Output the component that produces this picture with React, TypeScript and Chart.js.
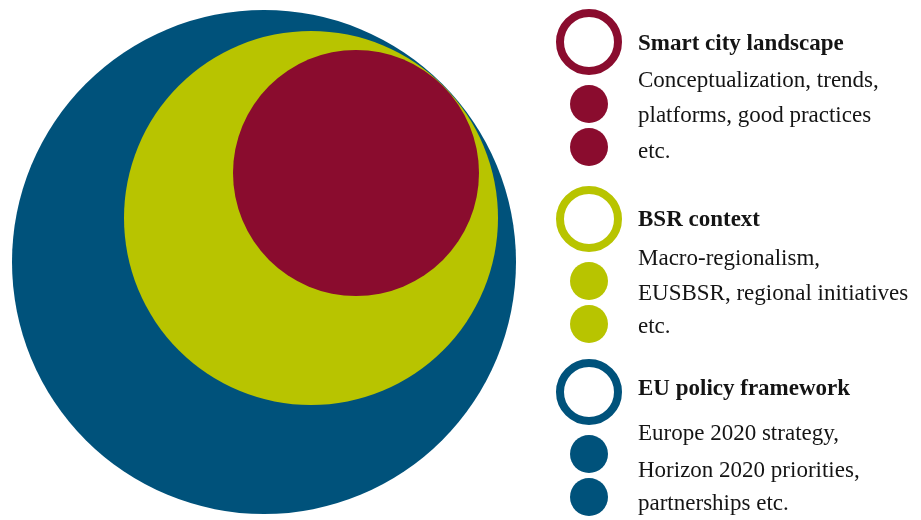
import { useEffect, useRef } from "react";
import { Chart, registerables } from "chart.js";

Chart.register(...registerables);

// ---- data ----
const categories = ["Smart city landscape", "BSR context", "EU policy framework"];
const colors = ["#8A0C2E", "#B8C400", "#00527B"];
const centerX = [356, 311, 264];
const centerY = [173, 218, 262];
const radius = [123, 187, 252];
const descriptions = [
  ["Conceptualization, trends,", "platforms, good practices", "etc."],
  ["Macro-regionalism,", "EUSBSR, regional initiatives", "etc."],
  ["Europe 2020 strategy,", "Horizon 2020 priorities,", "partnerships etc."],
];

// ---- legend layout (positions only) ----
const legendLayout = {
  iconX: 589,
  textX: 638,
  ringCenters: [42, 219, 392],
  ringR: 29,
  ringW: 8,
  dotR: 19,
  dotOffsets: [62, 105],
  titleBaselines: [50, 226, 395],
  lineBaselines: [
    [87, 122, 158],
    [265, 300, 333],
    [440, 477, 510],
  ],
  font: '"Liberation Serif", "Times New Roman", serif',
  size: 23,
};

const legendPlugin = {
  id: "sideLegend",
  afterDraw(chart: any) {
    const ctx = chart.ctx as CanvasRenderingContext2D;
    const L = legendLayout;
    ctx.save();
    categories.forEach((title, i) => {
      const cy = L.ringCenters[i];
      ctx.beginPath();
      ctx.arc(L.iconX, cy, L.ringR, 0, Math.PI * 2);
      ctx.fillStyle = "#ffffff";
      ctx.fill();
      ctx.lineWidth = L.ringW;
      ctx.strokeStyle = colors[i];
      ctx.stroke();
      L.dotOffsets.forEach((off) => {
        ctx.beginPath();
        ctx.arc(L.iconX, cy + off, L.dotR, 0, Math.PI * 2);
        ctx.fillStyle = colors[i];
        ctx.fill();
      });
      ctx.fillStyle = "#141414";
      ctx.textAlign = "left";
      ctx.textBaseline = "alphabetic";
      ctx.font = `bold ${L.size}px ${L.font}`;
      ctx.fillText(title, L.textX, L.titleBaselines[i]);
      ctx.font = `${L.size}px ${L.font}`;
      descriptions[i].forEach((line, j) => {
        ctx.fillText(line, L.textX, L.lineBaselines[i][j]);
      });
    });
    ctx.restore();
  },
};

export default function App() {
  const ref = useRef<HTMLCanvasElement | null>(null);

  useEffect(() => {
    if (!ref.current) return;
    const chart = new Chart(ref.current, {
      type: "bubble",
      data: {
        datasets: categories.map((name, i) => ({
          label: name,
          data: [{ x: centerX[i], y: centerY[i], r: radius[i] }],
          backgroundColor: colors[i],
          borderWidth: 0,
          hoverBorderWidth: 0,
          hoverRadius: 0,
          clip: false as any,
        })),
      },
      options: {
        animation: false,
        responsive: false,
        events: [],
        layout: { padding: 0, autoPadding: false },
        plugins: {
          legend: { display: false },
          tooltip: { enabled: false },
        },
        scales: {
          x: { type: "linear", min: 0, max: 921, display: false },
          y: { type: "linear", min: 0, max: 520, reverse: true, display: false },
        },
      },
      plugins: [legendPlugin],
    });
    return () => chart.destroy();
  }, []);

  return (
    <div style={{ position: "fixed", left: 0, top: 0, width: 921, height: 520, background: "#fff" }}>
      <canvas ref={ref} width={921} height={520} style={{ width: 921, height: 520, display: "block" }} />
    </div>
  );
}
